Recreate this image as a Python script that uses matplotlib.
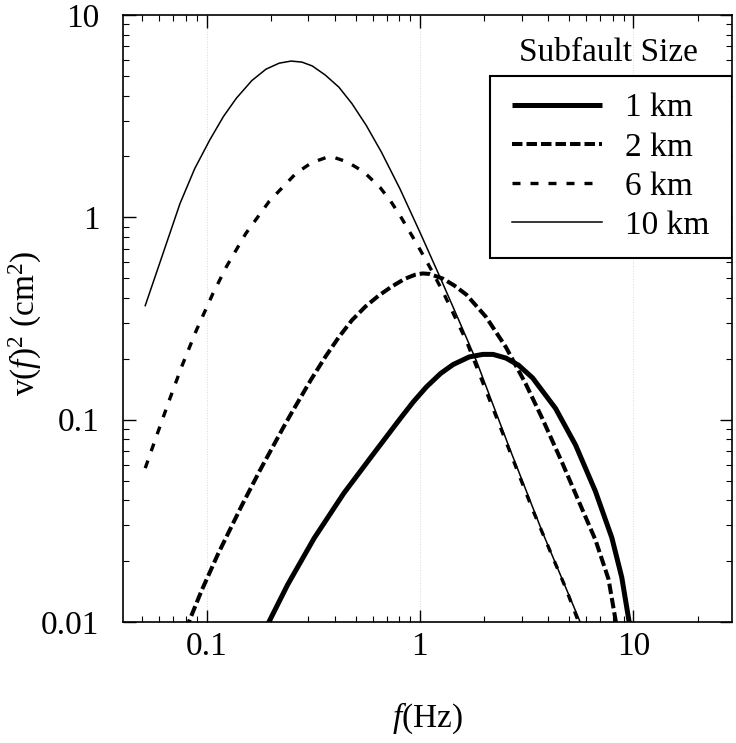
import numpy as np
import matplotlib
matplotlib.use("Agg")
import matplotlib.pyplot as plt
from matplotlib.patches import Rectangle
from matplotlib.ticker import LogLocator, NullFormatter, FixedLocator, FixedFormatter

plt.rcParams['font.family'] = ['Liberation Serif', 'DejaVu Serif']
plt.rcParams['mathtext.fontset'] = 'custom'
plt.rcParams['mathtext.rm'] = 'Liberation Serif'
plt.rcParams['mathtext.it'] = 'Liberation Serif:italic'

# ---- data ----
f_1km = [0.190, 0.196, 0.240, 0.319, 0.440, 0.607, 0.807, 0.93, 1.074, 1.25, 1.43, 1.70, 1.97, 2.2, 2.53, 2.9, 3.37, 4.32, 5.36, 6.64, 7.93, 8.83, 9.48, 9.7]
v_1km = [0.0093, 0.0100, 0.0153, 0.0259, 0.0433, 0.068, 0.101, 0.1223, 0.1454, 0.1692, 0.1872, 0.2041, 0.2102, 0.2102, 0.2016, 0.1858, 0.161, 0.1137, 0.075, 0.0443, 0.0261, 0.0166, 0.01055, 0.0091]

f_2km = [0.080, 0.0826, 0.0948, 0.113, 0.146, 0.177, 0.227, 0.249, 0.308, 0.361, 0.417, 0.48, 0.555, 0.64, 0.738, 0.85, 0.948, 1.03, 1.11, 1.28, 1.45, 1.65, 2.04, 2.53, 3.13, 3.75, 4.64, 5.55, 6.64, 7.65, 8.22, 8.4]
v_2km = [0.0092, 0.0100, 0.0143, 0.0216, 0.0375, 0.0556, 0.090, 0.107, 0.157, 0.205, 0.256, 0.310, 0.362, 0.410, 0.455, 0.497, 0.520, 0.528, 0.525, 0.498, 0.460, 0.415, 0.322, 0.228, 0.1505, 0.101, 0.0613, 0.0395, 0.0255, 0.0163, 0.0105, 0.0092]

f_6km = [0.0516, 0.0585, 0.0675, 0.0765, 0.0898, 0.107, 0.124, 0.153, 0.197, 0.262, 0.31, 0.361, 0.40, 0.456, 0.545, 0.652, 0.73, 0.807, 0.9, 0.966, 1.1, 1.28, 1.65, 2.36, 3.37, 4.81, 5.6]
v_6km = [0.0576, 0.0839, 0.128, 0.183, 0.278, 0.419, 0.571, 0.834, 1.203, 1.646, 1.86, 1.97, 1.97, 1.88, 1.68, 1.40, 1.20, 1.02, 0.84, 0.74, 0.58, 0.43, 0.245, 0.094, 0.036, 0.0148, 0.0097]

f_10km = [0.0516, 0.0607, 0.0751, 0.088, 0.1035, 0.12, 0.138, 0.163, 0.190, 0.219, 0.249, 0.28, 0.313, 0.36, 0.417, 0.48, 0.56, 0.66, 0.807, 1.0, 1.24, 1.5, 1.84, 2.62, 3.75, 5.55, 5.9]
v_10km = [0.366, 0.605, 1.17, 1.74, 2.41, 3.15, 3.88, 4.74, 5.40, 5.78, 5.92, 5.85, 5.60, 5.05, 4.40, 3.65, 2.85, 2.10, 1.38, 0.844, 0.508, 0.321, 0.195, 0.073, 0.0278, 0.0104, 0.0088]

labels = ['1 km', '2 km', '6 km', '10 km']
x_ticks = [0.1, 1, 10]
x_ticklabels = ['0.1', '1', '10']
y_ticks = [0.01, 0.1, 1, 10]
y_ticklabels = ['0.01', '0.1', '1', '10']

# ---- figure ----
fig = plt.figure(figsize=(7.36, 7.43), dpi=100)
ax = fig.add_axes([123/736, (743-622)/743, (732-123)/736, 607/743])
ax.set_xscale('log')
ax.set_yscale('log')
ax.set_xlim(0.0406, 29.0)
ax.set_ylim(0.01, 10)

for xv in x_ticks:
    ax.axvline(xv, color='0.85', lw=0.7, ls=':', zorder=0)

ax.plot(f_1km, v_1km, color='black', lw=3.6, solid_capstyle='butt', label=labels[0])
ax.plot(f_2km, v_2km, color='black', lw=2.9, dashes=(2.6, 1.0), label=labels[1])
ax.plot(f_6km, v_6km, color='black', lw=2.4, dashes=(2.4, 3.0), label=labels[2])
ax.plot(f_10km, v_10km, color='black', lw=1.1, label=labels[3])

ax.xaxis.set_major_locator(FixedLocator(x_ticks))
ax.xaxis.set_major_formatter(FixedFormatter(x_ticklabels))
ax.xaxis.set_minor_locator(LogLocator(base=10, subs=np.arange(2, 10)))
ax.xaxis.set_minor_formatter(NullFormatter())
ax.yaxis.set_major_locator(FixedLocator(y_ticks))
ax.yaxis.set_major_formatter(FixedFormatter(y_ticklabels))
ax.yaxis.set_minor_locator(LogLocator(base=10, subs=np.arange(2, 10)))
ax.yaxis.set_minor_formatter(NullFormatter())

ax.tick_params(which='both', direction='in', top=True, right=True, color='black')
ax.tick_params(which='major', length=9, width=1.0, labelsize=24)
ax.tick_params(which='minor', length=4.5, width=0.8)
ax.tick_params(axis='x', which='major', pad=7)
ax.tick_params(axis='y', which='major', pad=17)
for s in ax.spines.values():
    s.set_linewidth(1.2)

ax.set_xlabel(r'$f$(Hz)', fontsize=24, va='center')
ax.xaxis.set_label_coords(0.5, (622-718)/607)
ax.set_ylabel(r'v($f$)$^2$ (cm$^2$)', fontsize=24, va='center', ha='center')
ax.yaxis.set_label_coords((25-123)/609, (622-323)/607)

# legend box drawn separately so that the padding matches the original
bx0, bx1 = (490-123)/609, 1.0
by0, by1 = 1 - (258-15)/607, 1 - (76-15)/607
ax.add_patch(Rectangle((bx0, by0), bx1-bx0, by1-by0, transform=ax.transAxes,
                       facecolor='white', edgecolor='black', lw=1.5, zorder=4))
leg = ax.legend(loc='center', bbox_to_anchor=((bx0+bx1)/2, (by0+by1)/2), borderaxespad=0,
                fontsize=24, handlelength=2.7, handletextpad=0.7, labelspacing=0.26,
                borderpad=0.0, frameon=False)
leg.set_zorder(5)

ax.text((608-123)/609, 1 - (53-15)/607, 'Subfault Size', transform=ax.transAxes,
        fontsize=24, ha='center', va='center')

fig.savefig('out.png', dpi=100)
